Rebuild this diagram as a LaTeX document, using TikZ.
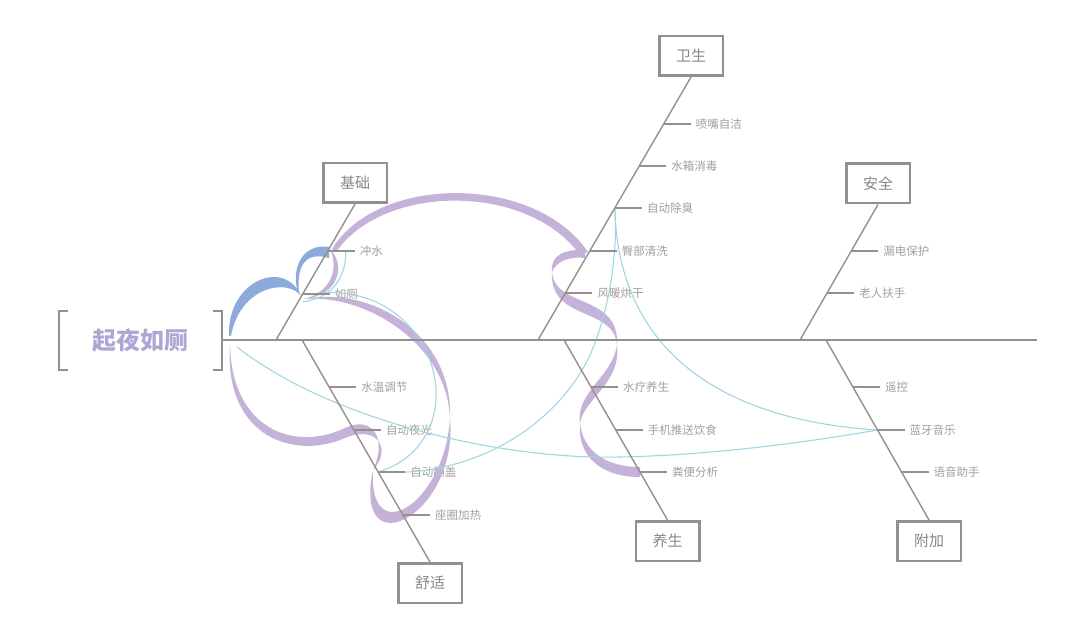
\documentclass[tikz,border=0pt]{standalone}
\usepackage{fontspec}
\setmainfont{Noto Sans CJK SC}
\usetikzlibrary{positioning, calc}
\definecolor{bonegray}{RGB}{150,143,140}
\definecolor{boxtext}{RGB}{140,134,131}
\definecolor{leafgray}{RGB}{163,158,155}
\definecolor{titlelilac}{RGB}{176,166,214}
\definecolor{ribbonlilac}{RGB}{196,178,216}
\definecolor{ribbonblue}{RGB}{140,170,220}
\definecolor{threadcyan}{RGB}{160,214,224}
\pgfdeclarelayer{textlayer}
\pgfdeclarelayer{ribbonlayer}
\pgfsetlayers{textlayer,ribbonlayer,main}

\begin{document}
\begin{tikzpicture}[x=1pt, y=-1pt,
  catbox/.style={draw=bonegray, line width=2.5pt, minimum width=63.5pt, minimum height=39.5pt, inner sep=0pt, text=boxtext, font=\fontsize{15}{18}\selectfont},
  leaf/.style={text=leafgray, inner sep=5pt, font=\fontsize{11.5}{14}\selectfont},
  bone/.style={draw=bonegray, line width=1.4pt},
  spine/.style={draw=bonegray, line width=2.4pt},
  ribbonP/.style={fill=ribbonlilac},
  ribbonB/.style={fill=ribbonblue},
  thread/.style={draw=threadcyan, line width=1.1pt}
]
  \useasboundingbox (0,0) rectangle (1080,636);

  % head of the fish
  \node[text=titlelilac, font=\fontsize{24}{28}\selectfont\bfseries] (title) at (140.5,340) {起夜如厕};
  \draw[bone, line width=2.2pt] (68,311) -- (59,311) -- (59,370) -- (68,370);
  \draw[bone, line width=2.2pt] (213,311) -- (222,311) -- (222,370) -- (213,370);
  \coordinate (tail) at (223,340);
  \coordinate (head) at (1037,340);
  \draw[spine] (tail) -- (head);

  % categories
  \node[catbox] (jichu) at (355,183) {基础};
  \node[catbox] (weisheng) at (691,56) {卫生};
  \node[catbox] (anquan) at (878,183.5) {安全};
  \node[catbox] (shushi) at (430,583) {舒适};
  \node[catbox] (yangsheng) at (667.5,541) {养生};
  \node[catbox] (fujia) at (929,541) {附加};

  \coordinate (jichu-root) at (276,340);
  \coordinate (weisheng-root) at (538,340);
  \coordinate (anquan-root) at (800,340);
  \coordinate (shushi-root) at (302,340);
  \coordinate (yangsheng-root) at (564,340);
  \coordinate (fujia-root) at (826,340);

  \draw[bone] (jichu.south) -- (jichu-root);
  \draw[bone] (weisheng.south) -- (weisheng-root);
  \draw[bone] (anquan.south) -- (anquan-root);
  \draw[bone] (shushi-root) -- (shushi.north);
  \draw[bone] (yangsheng-root) -- (yangsheng.north);
  \draw[bone] (fujia-root) -- (fujia.north);

  % small bones
  \foreach \pos/\lbl [count=\i] in {0.346/冲水, 0.662/如厕} {
    \coordinate (jichu-\i) at ($(jichu.south)!\pos!(jichu-root)$);
    \begin{pgfonlayer}{textlayer}
      \node[leaf, right=27pt of jichu-\i] (jichu-leaf-\i) {\lbl};
    \end{pgfonlayer}
    \draw[bone] (jichu-\i) -- (jichu-leaf-\i.west);
  }
  \foreach \pos/\lbl [count=\i] in {0.179/喷嘴自洁, 0.338/水箱消毒, 0.498/自动除臭, 0.662/臀部清洗, 0.821/风暖烘干} {
    \coordinate (weisheng-\i) at ($(weisheng.south)!\pos!(weisheng-root)$);
    \begin{pgfonlayer}{textlayer}
      \node[leaf, right=27pt of weisheng-\i] (weisheng-leaf-\i) {\lbl};
    \end{pgfonlayer}
    \draw[bone] (weisheng-\i) -- (weisheng-leaf-\i.west);
  }
  \foreach \pos/\lbl [count=\i] in {0.343/漏电保护, 0.653/老人扶手} {
    \coordinate (anquan-\i) at ($(anquan.south)!\pos!(anquan-root)$);
    \begin{pgfonlayer}{textlayer}
      \node[leaf, right=27pt of anquan-\i] (anquan-leaf-\i) {\lbl};
    \end{pgfonlayer}
    \draw[bone] (anquan-\i) -- (anquan-leaf-\i.west);
  }
  \foreach \pos/\lbl [count=\i] in {0.212/水温调节, 0.405/自动夜光, 0.595/自动翻盖, 0.788/座圈加热} {
    \coordinate (shushi-\i) at ($(shushi-root)!\pos!(shushi.north)$);
    \begin{pgfonlayer}{textlayer}
      \node[leaf, right=27pt of shushi-\i] (shushi-leaf-\i) {\lbl};
    \end{pgfonlayer}
    \draw[bone] (shushi-\i) -- (shushi-leaf-\i.west);
  }
  \foreach \pos/\lbl [count=\i] in {0.261/水疗养生, 0.5/手机推送饮食, 0.733/粪便分析} {
    \coordinate (yangsheng-\i) at ($(yangsheng-root)!\pos!(yangsheng.north)$);
    \begin{pgfonlayer}{textlayer}
      \node[leaf, right=27pt of yangsheng-\i] (yangsheng-leaf-\i) {\lbl};
    \end{pgfonlayer}
    \draw[bone] (yangsheng-\i) -- (yangsheng-leaf-\i.west);
  }
  \foreach \pos/\lbl [count=\i] in {0.261/遥控, 0.5/蓝牙音乐, 0.733/语音助手} {
    \coordinate (fujia-\i) at ($(fujia-root)!\pos!(fujia.north)$);
    \begin{pgfonlayer}{textlayer}
      \node[leaf, right=27pt of fujia-\i] (fujia-leaf-\i) {\lbl};
    \end{pgfonlayer}
    \draw[bone] (fujia-\i) -- (fujia-leaf-\i.west);
  }

  \begin{pgfonlayer}{ribbonlayer}
    % lilac ribbon
    \fill[ribbonP] (580,423) .. controls (577,458) and (603,477) .. (640,477) -- (640,467) .. controls (607,467) and (583,452) .. (580,423) -- cycle;
    \fill[ribbonP] (580,423) .. controls (584.3,398.4) and (621.3,383.4) .. (617,345) .. controls (612.7,376.6) and (575.7,391.6) .. (580,423) -- cycle;
    \fill[ribbonP] (617,345) .. controls (619.9,293.6) and (554.9,308.6) .. (552,272) .. controls (549.1,321.4) and (614.1,306.4) .. (617,345) -- cycle;
    \fill[ribbonP] (552,272) .. controls (550,255) and (565,249) .. (585,250) -- (585,258) .. controls (568,256) and (556,262) .. (552,272) -- cycle;
    \fill[ribbonP] (332,249) .. controls (378,174) and (535,174) .. (588,252) -- (580,255) .. controls (528,183) and (384,183) .. (336,252) -- cycle;
    \fill[ribbonP] (330,249) .. controls (346,265) and (339,295) .. (305,299) .. controls (334,290) and (338,266) .. (330,249) -- cycle;
    \fill[ribbonP] (305,299) .. controls (373.2,285.8) and (453.2,335.8) .. (450,418) .. controls (446.8,344.2) and (366.8,294.2) .. (305,299) -- cycle;
    \fill[ribbonP] (450,418) .. controls (459,516) and (352,569) .. (373,470) .. controls (368,551) and (445,504) .. (450,418) -- cycle;
    \fill[ribbonP] (373,470) .. controls (388,438) and (372,415) .. (345,428) .. controls (295,452) and (232,430) .. (230,345) .. controls (224,438) and (295,460) .. (345,438) .. controls (378,424) and (392,450) .. (373,470) -- cycle;
    % blue ribbon
    \fill[ribbonB] (229,336) .. controls (227,280) and (285,258) .. (301,296) .. controls (288,278) and (240,286) .. (231,336) -- cycle;
    \fill[ribbonB] (298,293) .. controls (290,265) and (305,243) .. (329,247) -- (329,258) .. controls (308,252) and (296,262) .. (299,293) -- cycle;
    % threads
    \coordinate (thread-start) at (237,347);
    \draw[thread] ($(jichu-1)+(18,1)$) .. controls (346,280) and (330,298) .. ($(jichu-2)+(0,8)$);
    \draw[thread] ($(jichu-2)+(15,-1)$) .. controls (440,282) and (480,440) .. (shushi-3);
    \draw[thread] (thread-start) .. controls (330,420) and (500,460) .. (620,457) .. controls (720,455) and (820,440) .. (fujia-2);
    \draw[thread] (shushi-3) .. controls (480,478) and (560,420) .. (590,355) .. controls (610,310) and (618,250) .. (weisheng-3);
    \draw[thread] (weisheng-3) .. controls (618,350) and (720,420) .. (fujia-2);
  \end{pgfonlayer}
\end{tikzpicture}
\end{document}
